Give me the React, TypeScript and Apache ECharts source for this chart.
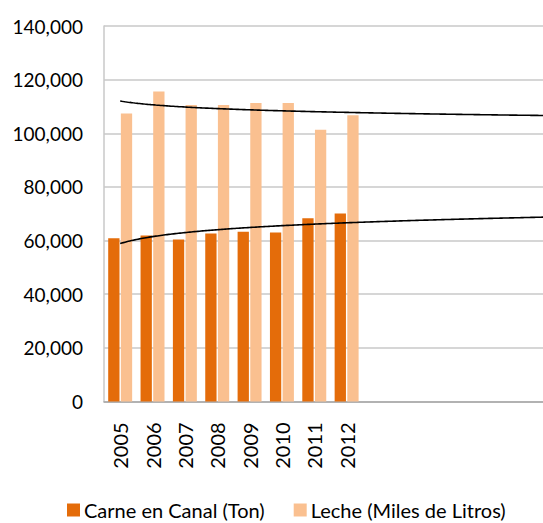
import React, { useEffect, useRef } from "react";
import * as echarts from "echarts";

const years = ["2005", "2006", "2007", "2008", "2009", "2010", "2011", "2012"];
const extraSlots = ["", "", "", "", "", "", ""];
const carne = [60800, 61900, 60400, 62600, 63300, 63000, 68300, 70100];
const leche = [107400, 115600, 110500, 110500, 111300, 111300, 101300, 106700];
const seriesNames = ["Carne en Canal (Ton)", "Leche (Miles de Litros)"];
const colors = ["#E46C0A", "#FAC090"];
const trendEnd = 15;

function logFit(vals: number[]): [number, number] {
  const n = vals.length;
  const lx = vals.map((_, i) => Math.log(i + 1));
  const mx = lx.reduce((s, v) => s + v, 0) / n;
  const my = vals.reduce((s, v) => s + v, 0) / n;
  let sxy = 0;
  let sxx = 0;
  for (let i = 0; i < n; i++) {
    sxy += (lx[i] - mx) * (vals[i] - my);
    sxx += (lx[i] - mx) * (lx[i] - mx);
  }
  const b = sxy / sxx;
  return [my - b * mx, b];
}

function trendPoints(vals: number[]): number[][] {
  const [a, b] = logFit(vals);
  const pts: number[][] = [];
  for (let k = 0; k <= (trendEnd - 1) * 20; k++) {
    const x = 1 + k / 20;
    pts.push([x, a + b * Math.log(x)]);
  }
  return pts;
}

export default function App() {
  const ref = useRef<HTMLDivElement>(null);
  useEffect(() => {
    if (!ref.current) return;
    const chart = echarts.init(ref.current, undefined, { renderer: "svg" });
    const cats = [...years, ...extraSlots];
    const font = "Lato, 'Noto Sans', sans-serif";
    chart.setOption({
      animation: false,
      textStyle: { fontFamily: font },
      grid: { left: 104, top: 26, height: 375.4, width: cats.length * 32.35, containLabel: false },
      legend: {
        data: seriesNames,
        left: 67,
        top: 500,
        padding: 0,
        icon: "rect",
        itemWidth: 13,
        itemHeight: 13,
        itemGap: 29,
        textStyle: { fontSize: 20, lineHeight: 20, color: "#000", fontFamily: font, padding: [0, 0, 0, -1] },
      },
      xAxis: [
        {
          type: "category",
          data: cats,
          axisLine: { show: true, lineStyle: { color: "#A6A6A6", width: 1.5 } },
          axisTick: { show: false },
          axisLabel: { rotate: 90, margin: 21, fontSize: 20, color: "#000", fontFamily: font, interval: 0 },
          splitLine: { show: false },
        },
        {
          type: "value",
          min: 0.5,
          max: cats.length + 0.5,
          show: false,
        },
      ],
      yAxis: {
        type: "value",
        min: 0,
        max: 140000,
        interval: 20000,
        axisLine: { show: true, lineStyle: { color: "#C8C8C8", width: 1.5 } },
        axisTick: { show: false },
        axisLabel: {
          margin: 21,
          fontSize: 19,
          color: "#000",
          fontFamily: font,
          formatter: (v: number) => v.toLocaleString("en-US"),
        },
        splitLine: { show: true, lineStyle: { color: "#C8C8C8", width: 1.5 } },
      },
      series: [
        {
          name: seriesNames[0],
          type: "bar",
          data: carne,
          barWidth: 11.3,
          barGap: "12%",
          itemStyle: { color: colors[0] },
        },
        {
          name: seriesNames[1],
          type: "bar",
          data: leche,
          barWidth: 11.3,
          barGap: "12%",
          itemStyle: { color: colors[1] },
        },
        {
          name: "trend1",
          type: "line",
          xAxisIndex: 1,
          data: trendPoints(carne),
          showSymbol: false,
          lineStyle: { color: "#000", width: 1.6 },
          z: 5,
        },
        {
          name: "trend2",
          type: "line",
          xAxisIndex: 1,
          data: trendPoints(leche),
          showSymbol: false,
          lineStyle: { color: "#000", width: 1.6 },
          z: 5,
        },
      ],
    });
    return () => chart.dispose();
  }, []);
  return (
    <div style={{ position: "fixed", left: 0, top: 0, width: 543, height: 523, overflow: "hidden", background: "#fff" }}>
      <div ref={ref} style={{ width: 620, height: 523 }} />
    </div>
  );
}
